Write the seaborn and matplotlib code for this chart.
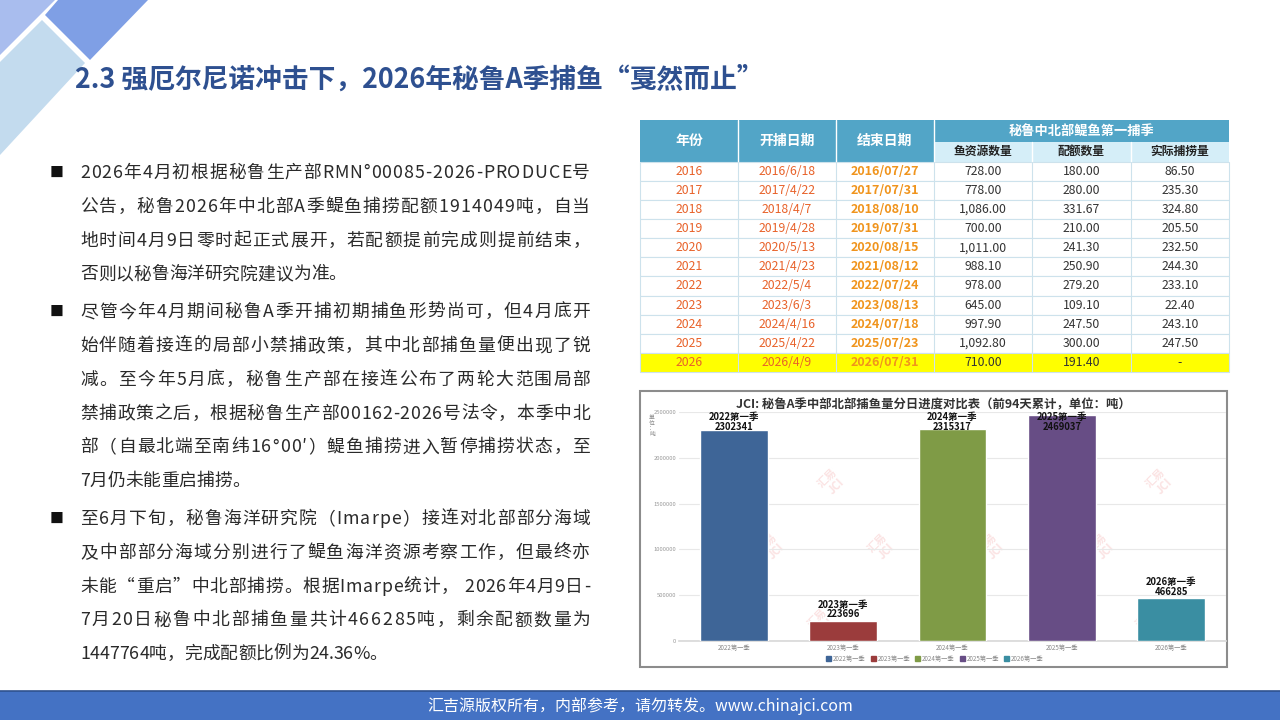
import matplotlib
matplotlib.use("Agg")
import matplotlib.pyplot as plt
import matplotlib.patches as mpatches
from matplotlib.font_manager import FontProperties
import seaborn as sns
import pandas as pd

# ---------------- data ----------------
title = "2.3 强厄尔尼诺冲击下，2026年秘鲁A季捕鱼“戛然而止”"

paragraphs = [
    ["2026年4月初根据秘鲁生产部RMN°00085-2026-PRODUCE号",
     "公告，秘鲁2026年中北部A季鳀鱼捕捞配额1914049吨，自当",
     "地时间4月9日零时起正式展开，若配额提前完成则提前结束，",
     "否则以秘鲁海洋研究院建议为准。"],
    ["尽管今年4月期间秘鲁A季开捕初期捕鱼形势尚可，但4月底开",
     "始伴随着接连的局部小禁捕政策，其中北部捕鱼量便出现了锐",
     "减。至今年5月底，秘鲁生产部在接连公布了两轮大范围局部",
     "禁捕政策之后，根据秘鲁生产部00162-2026号法令，本季中北",
     "部（自最北端至南纬16°00′）鳀鱼捕捞进入暂停捕捞状态，至",
     "7月仍未能重启捕捞。"],
    ["至6月下旬，秘鲁海洋研究院（Imarpe）接连对北部部分海域",
     "及中部部分海域分别进行了鳀鱼海洋资源考察工作，但最终亦",
     "未能“重启”中北部捕捞。根据Imarpe统计， 2026年4月9日-",
     "7月20日秘鲁中北部捕鱼量共计466285吨，剩余配额数量为",
     "1447764吨，完成配额比例为24.36%。"],
]

footer = "汇吉源版权所有，内部参考，请勿转发。www.chinajci.com"

# table
table_group = "秘鲁中北部鳀鱼第一捕季"
table_headers = ["年份", "开捕日期", "结束日期"]
table_subheaders = ["鱼资源数量", "配额数量", "实际捕捞量"]
years = ["2016", "2017", "2018", "2019", "2020", "2021", "2022", "2023", "2024", "2025", "2026"]
start_dates = ["2016/6/18", "2017/4/22", "2018/4/7", "2019/4/28", "2020/5/13", "2021/4/23",
               "2022/5/4", "2023/6/3", "2024/4/16", "2025/4/22", "2026/4/9"]
end_dates = ["2016/07/27", "2017/07/31", "2018/08/10", "2019/07/31", "2020/08/15", "2021/08/12",
             "2022/07/24", "2023/08/13", "2024/07/18", "2025/07/23", "2026/07/31"]
stock = [728.00, 778.00, 1086.00, 700.00, 1011.00, 988.10, 978.00, 645.00, 997.90, 1092.80, 710.00]
quota = [180.00, 280.00, 331.67, 210.00, 241.30, 250.90, 279.20, 109.10, 247.50, 300.00, 191.40]
actual = [86.50, 235.30, 324.80, 205.50, 232.50, 244.30, 233.10, 22.40, 243.10, 247.50, None]

# chart
chart_title = "JCI: 秘鲁A季中部北部捕鱼量分日进度对比表（前94天累计，单位：吨）"
seasons = ["2022第一季", "2023第一季", "2024第一季", "2025第一季", "2026第一季"]
catches = [2302341, 223696, 2315317, 2469037, 466285]
bar_colors = ["#3e6597", "#9b3c3c", "#7f9b46", "#674d85", "#3a8ea2"]
y_ticks = [0, 500000, 1000000, 1500000, 2000000, 2500000]

# ---------------- style ----------------
sns.set_theme(style="white")
plt.rcParams["font.family"] = ["Noto Sans CJK SC", "DejaVu Sans"]

W, H = 1280, 720
fig = plt.figure(figsize=(12.8, 7.2), dpi=100)
fig.patch.set_facecolor("white")
renderer = fig.canvas.get_renderer()

# background axes in pixel coordinates
bg = fig.add_axes([0, 0, 1, 1])
bg.set_xlim(0, W)
bg.set_ylim(H, 0)
bg.axis("off")

# decorative corner shapes
bg.add_patch(mpatches.Polygon([(0, 0), (55, 0), (0, 55)], closed=True, color="#a9bdee", lw=0))
bg.add_patch(mpatches.Polygon([(58, 0), (45, 15), (90, 60), (148, 0)], closed=True, color="#7f9fe5", lw=0))
bg.add_patch(mpatches.Polygon([(42, 20), (85, 63), (0, 155), (0, 62)], closed=True, color="#c3dbee", lw=0))

# slide title
bg.text(75, 80, title, fontsize=19.3, fontweight="bold", color="#2e5090", va="center", ha="left")

# bullet text, justified between x=80 and x=590
body_fp = FontProperties(family=["Noto Sans CJK SC", "DejaVu Sans"], size=12.8)


def text_w(s):
    return renderer.get_text_width_height_descent(s, body_fp, ismath=False)[0]


ref_w = text_w("中")
x0, x1 = 80, 590
line_h = 33.8
y = 173
for para in paragraphs:
    bg.text(57, y, "■", fontsize=10, color="#111111", va="center", ha="center")
    for k, line in enumerate(para):
        pos = [text_w(line[:i] + "中") - ref_w for i in range(len(line))]
        natural = text_w(line + "中") - ref_w
        extra = 0.0
        if k < len(para) - 1 and len(line) > 1:
            extra = (x1 - x0 - natural) / (len(line) - 1)
        for i, ch in enumerate(line):
            if ch == " ":
                continue
            bg.text(x0 + pos[i] + i * extra, y, ch, fontproperties=body_fp, color="#2a2a2a",
                    va="center", ha="left")
        y += line_h
    y += 4

# footer bar
bg.add_patch(mpatches.Rectangle((0, 691), W, 29, color="#4472c4", lw=0))
bg.plot([0, W], [691, 691], color="#2f528f", lw=1.2)
bg.text(W / 2, 706, footer, fontsize=11.5, color="white", ha="center", va="center")

# ---------------- table ----------------
col_x = [640, 738, 836, 934, 1032, 1131, 1229]
t_top, t_mid, t_head = 120, 142, 161.5
row_h = 19.15
head_col = "#52a5c7"
sub_col = "#d5eef8"
grid_col = "#cde2ec"

bg.add_patch(mpatches.Rectangle((col_x[0], t_top), col_x[-1] - col_x[0], t_head - t_top,
                                color=head_col, lw=0))
bg.add_patch(mpatches.Rectangle((col_x[3], t_mid), col_x[-1] - col_x[3], t_head - t_mid,
                                color=sub_col, lw=0))
for i, h in enumerate(table_headers):
    bg.text((col_x[i] + col_x[i + 1]) / 2, (t_top + t_head) / 2, h, fontsize=10,
            fontweight="bold", color="white", ha="center", va="center")
    if i > 0:
        bg.plot([col_x[i], col_x[i]], [t_top, t_head], color="white", lw=1)
bg.plot([col_x[3], col_x[3]], [t_top, t_head], color="white", lw=1)
bg.text((col_x[3] + col_x[-1]) / 2, (t_top + t_mid) / 2 + 0.5, table_group, fontsize=9.5,
        fontweight="bold", color="white", ha="center", va="center")
for j, h in enumerate(table_subheaders):
    bg.text((col_x[3 + j] + col_x[4 + j]) / 2, (t_mid + t_head) / 2, h, fontsize=8.5,
            fontweight="bold", color="#222222", ha="center", va="center")
    if j > 0:
        bg.plot([col_x[3 + j], col_x[3 + j]], [t_mid, t_head], color="white", lw=1)

tbl = pd.DataFrame({"year": years, "start": start_dates, "end": end_dates,
                    "stock": stock, "quota": quota, "actual": actual})
for r, row in tbl.iterrows():
    top = t_head + r * row_h
    cy = top + row_h / 2
    face = "#ffff00" if row["year"] == "2026" else "white"
    bg.add_patch(mpatches.Rectangle((col_x[0], top), col_x[-1] - col_x[0], row_h,
                                    facecolor=face, edgecolor=grid_col, lw=0.8))
    cells = [row["year"], row["start"], row["end"], f"{row['stock']:,.2f}",
             f"{row['quota']:,.2f}", "-" if pd.isna(row["actual"]) else f"{row['actual']:,.2f}"]
    for c, txt in enumerate(cells):
        cx = (col_x[c] + col_x[c + 1]) / 2
        if c < 2:
            bg.text(cx, cy, txt, fontsize=8.8, color="#e8622a", ha="center", va="center")
        elif c == 2:
            bg.text(cx, cy, txt, fontsize=9, fontweight="bold", color="#f0941c",
                    ha="center", va="center")
        else:
            bg.text(cx, cy, txt, fontsize=8.8, color="#333333", ha="center", va="center")
for x in col_x[1:-1]:
    bg.plot([x, x], [t_head, t_head + len(years) * row_h], color=grid_col, lw=0.8)

# ---------------- bar chart ----------------
box = mpatches.Rectangle((640, 391), 587, 276, facecolor="white", edgecolor="#8c8c8c", lw=1.5)
bg.add_patch(box)
bg.text(933, 405, chart_title, fontsize=8.9, fontweight="bold", color="#333333",
        ha="center", va="center")
bg.text(652, 426, "单\n位\n：\n吨", fontsize=4.2, color="#888888", ha="center", va="center",
        linespacing=1.2)

# faint watermarks
for wx, wy in [(832, 482), (1160, 482), (772, 547), (882, 547), (992, 547), (1102, 547),
               (822, 622), (1150, 622)]:
    bg.text(wx, wy, "汇易\nJCI", fontsize=8, fontweight="bold", color="#fbe3e3", rotation=45,
            ha="center", va="center", linespacing=0.9)

left, right, ytop, ybot = 679, 1226, 412, 641
ax = fig.add_axes([left / W, 1 - ybot / H, (right - left) / W, (ybot - ytop) / H])
ax.set_facecolor("none")
df = pd.DataFrame({"season": seasons, "catch": catches})
sns.barplot(data=df, x="season", y="catch", hue="season", palette=bar_colors, width=0.62,
            saturation=1, legend=False, ax=ax, zorder=3)
ax.set_ylim(0, 2500000)
ax.set_xlim(-0.5, len(seasons) - 0.5)
ax.set_yticks(y_ticks)
ax.set_yticklabels([str(v) for v in y_ticks], fontsize=4.2, color="#999999")
ax.tick_params(axis="y", length=0, pad=2)
ax.tick_params(axis="x", length=0, pad=2, labelsize=4.5, labelcolor="#888888")
ax.set_xlabel("")
ax.set_ylabel("")
ax.grid(axis="y", color="#e8e8e8", lw=0.8, zorder=0)
for s in ["top", "right", "left"]:
    ax.spines[s].set_visible(False)
ax.spines["bottom"].set_color("#d9d9d9")

for i, (s, v) in enumerate(zip(seasons, catches)):
    if v + 220000 > 2500000:
        ax.text(i, 2500000, f"{s}\n{v}", fontsize=6.8, fontweight="bold", color="#111111",
                ha="center", va="top", linespacing=0.95, zorder=5)
    else:
        ax.text(i, v + 15000, f"{s}\n{v}", fontsize=6.8, fontweight="bold", color="#111111",
                ha="center", va="bottom", linespacing=0.95, zorder=5)

handles = [mpatches.Patch(color=c, label=s) for c, s in zip(bar_colors, seasons)]
fig.legend(handles=handles, loc="center", bbox_to_anchor=(935 / W, 1 - 659 / H), ncol=5,
           frameon=False, fontsize=4.5, handlelength=0.8, handleheight=0.8, handletextpad=0.3,
           columnspacing=0.8, labelcolor="#888888")

fig.savefig("out.png", dpi=100)
